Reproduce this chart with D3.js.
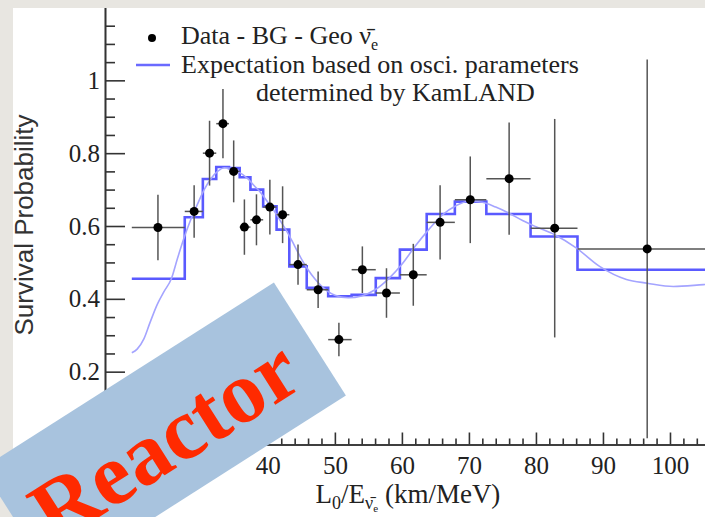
<!DOCTYPE html>
<html>
<head>
<meta charset="utf-8">
<script src="https://cdn.jsdelivr.net/npm/d3@7"></script>
<style>
  body { margin: 0; background: #e8e6e1; }
  svg { display: block; }
</style>
</head>
<body>
<div id="chart"></div>
<script>
// L0/E bins of the data points (km/MeV)
let binLow  = [19.7, 27.6, 30.3, 32.3, 34.2, 35.8, 37.4, 39.3, 41.3, 43.2, 45.8, 49.0, 52.5, 56.1, 59.7, 63.7, 67.9, 72.6, 79.2, 86.2];
let binHigh = [27.6, 30.3, 32.3, 34.2, 35.8, 37.4, 39.3, 41.3, 43.2, 45.8, 49.0, 52.5, 56.1, 59.7, 63.7, 67.9, 72.6, 79.2, 86.2, 112];
// Data - BG - Geo
let pointX   = [23.6, 29.0, 31.3, 33.3, 34.9, 36.5, 38.3, 40.3, 42.2, 44.5, 47.5, 50.6, 54.1, 57.7, 61.7, 65.7, 70.2, 76.0, 82.8, 96.6];
let pointY   = [0.596, 0.640, 0.800, 0.881, 0.750, 0.597, 0.617, 0.652, 0.631, 0.494, 0.425, 0.288, 0.480, 0.416, 0.466, 0.610, 0.672, 0.730, 0.594, 0.537];
let pointErr = [0.090, 0.072, 0.089, 0.095, 0.085, 0.076, 0.070, 0.075, 0.078, 0.055, 0.050, 0.046, 0.064, 0.068, 0.085, 0.102, 0.119, 0.154, 0.300, 0.520];
// expectation, one value per bin
let expLevel = [0.455, 0.624, 0.729, 0.762, 0.759, 0.734, 0.700, 0.654, 0.590, 0.489, 0.430, 0.407, 0.411, 0.457, 0.535, 0.633, 0.667, 0.633, 0.571, 0.480];
// unbinned oscillation curve
let curveX = [19.7, 20.5, 21.5, 22.4, 23.5, 24.5, 25.6, 26.5, 27.4, 28.4, 29.5, 30.5, 31.5, 32.5, 33.5, 34.5, 35.5, 37, 38, 39, 40, 41, 42, 43, 44, 45, 46, 47, 48, 49, 50, 52, 54, 56, 58, 60, 62, 64, 66, 68, 70, 72, 74, 76, 78, 80, 82.8, 86, 89.5, 93.5, 96.6, 100.5, 105, 110];
let curveY = [0.252, 0.262, 0.290, 0.334, 0.385, 0.420, 0.455, 0.510, 0.562, 0.613, 0.660, 0.700, 0.730, 0.750, 0.760, 0.758, 0.750, 0.730, 0.710, 0.690, 0.665, 0.640, 0.610, 0.580, 0.545, 0.510, 0.480, 0.455, 0.435, 0.420, 0.410, 0.403, 0.408, 0.425, 0.455, 0.495, 0.545, 0.590, 0.630, 0.655, 0.668, 0.665, 0.652, 0.635, 0.615, 0.598, 0.576, 0.540, 0.489, 0.453, 0.443, 0.434, 0.439, 0.445];

let xTicks = [20, 30, 40, 50, 60, 70, 80, 90, 100, 110];
let yTicks = [0.2, 0.4, 0.6, 0.8, 1];

let width = 705, height = 517;
let serif = "'Liberation Serif', 'Times New Roman', serif";

let svg = d3.select("#chart").append("svg")
    .attr("width", width)
    .attr("height", height);

// grey surround and white page
svg.append("rect").attr("width", width).attr("height", height).attr("fill", "#e8e6e1");
svg.append("rect").attr("x", 13).attr("y", 8).attr("width", width - 13).attr("height", height - 8).attr("fill", "#fff");

var x = d3.scaleLinear().domain([15.7, 110]).range([105, 737]);
var y = d3.scaleLinear().domain([0, 1.2]).range([444.5, 7.5]);

// axes
svg.append("g")
    .attr("transform", "translate(" + x(15.7) + ",0)")
    .call(d3.axisLeft(y).tickValues(yTicks).tickFormat(d => String(d)).tickSizeInner(-20).tickSizeOuter(0).tickPadding(5));
svg.append("g")
    .attr("transform", "translate(" + x(15.7) + ",0)")
    .call(d3.axisLeft(y).tickValues(d3.range(0, 24).map(i => i * 0.05).filter(v => Math.round(v * 100) % 20 != 0)).tickFormat("").tickSizeInner(-10).tickSizeOuter(0));

svg.append("g")
    .attr("transform", "translate(0," + y(0) + ")")
    .call(d3.axisBottom(x).tickValues(xTicks).tickSizeInner(-12).tickSizeOuter(0).tickPadding(12));
svg.append("g")
    .attr("transform", "translate(0," + y(0) + ")")
    .call(d3.axisBottom(x).tickValues(d3.range(16, 112, 2).filter(v => v % 10 != 0)).tickFormat("").tickSizeInner(-6).tickSizeOuter(0));

svg.selectAll(".domain, .tick line").attr("stroke", "#333").attr("stroke-width", 1.6);
svg.selectAll(".tick text").attr("font-family", serif).attr("font-size", 25).attr("fill", "#222");

// expectation histogram
let histPts = binLow.map((b, i) => [b, expLevel[i]]);
histPts.push([binHigh[binHigh.length - 1], expLevel[expLevel.length - 1]]);
svg.append("path")
    .attr("d", d3.line().x(d => x(d[0])).y(d => y(d[1])).curve(d3.curveStepAfter)(histPts))
    .attr("fill", "none")
    .attr("stroke", "#5a5aff")
    .attr("stroke-width", 2.6);

// oscillation curve
svg.append("path")
    .attr("d", d3.line().x((d, i) => x(d)).y((d, i) => y(curveY[i])).curve(d3.curveMonotoneX)(curveX))
    .attr("fill", "none")
    .attr("stroke", "#a4a4ff")
    .attr("stroke-width", 1.6);

// data points with error bars
let pts = svg.append("g").selectAll("g")
    .data(pointX)
    .enter()
    .append("g");
pts.append("line")
    .attr("x1", (d, i) => x(binLow[i])).attr("x2", (d, i) => x(binHigh[i]))
    .attr("y1", (d, i) => y(pointY[i])).attr("y2", (d, i) => y(pointY[i]))
    .attr("stroke", "#555").attr("stroke-width", 1.5);
pts.append("line")
    .attr("x1", d => x(d)).attr("x2", d => x(d))
    .attr("y1", (d, i) => y(pointY[i] + pointErr[i])).attr("y2", (d, i) => y(Math.max(0, pointY[i] - pointErr[i])))
    .attr("stroke", "#555").attr("stroke-width", 1.5);
pts.append("circle")
    .attr("cx", d => x(d))
    .attr("cy", (d, i) => y(pointY[i]))
    .attr("r", 4.5)
    .attr("fill", "#000");

// legend
let legend = svg.append("g").attr("font-family", serif).attr("font-size", 26).attr("fill", "#222");
legend.append("circle").attr("cx", 152).attr("cy", 38).attr("r", 4).attr("fill", "#000");
legend.append("line").attr("x1", 136).attr("x2", 170).attr("y1", 65).attr("y2", 65).attr("stroke", "#6a6aff").attr("stroke-width", 2.4);
let l1 = legend.append("text").attr("x", 181).attr("y", 44).text("Data - BG - Geo ν̄");
l1.append("tspan").attr("font-size", 16).attr("dy", 6).text("e");
legend.append("text").attr("x", 181).attr("y", 73).text("Expectation based on osci. parameters");
legend.append("text").attr("x", 256).attr("y", 101).text("determined by KamLAND");

// axis titles
let xt = svg.append("text")
    .attr("x", 408).attr("y", 503)
    .attr("text-anchor", "middle")
    .attr("font-family", serif).attr("font-size", 27).attr("fill", "#222");
xt.append("tspan").text("L");
xt.append("tspan").attr("font-size", 18).attr("dy", 6).text("0");
xt.append("tspan").attr("dy", -6).text("/E");
xt.append("tspan").attr("font-size", 18).attr("dy", 6).text("ν̄");
xt.append("tspan").attr("font-size", 11).attr("dy", 3).text("e");
xt.append("tspan").attr("dy", -9).text(" (km/MeV)");

svg.append("text")
    .attr("transform", "translate(33,225) rotate(-90)")
    .attr("text-anchor", "middle")
    .attr("font-family", "'Liberation Sans', Arial, sans-serif")
    .attr("font-size", 26).attr("fill", "#333")
    .text("Survival Probability");

// re-cover the left and top margins
svg.append("rect").attr("width", 13).attr("height", height).attr("fill", "#e8e6e1");
svg.append("rect").attr("width", width).attr("height", 8).attr("fill", "#e8e6e1");

// banner
let banner = svg.append("g").attr("transform", "translate(164,432) rotate(-32.5)");
banner.append("rect").attr("x", -173).attr("y", -67).attr("width", 346).attr("height", 134).attr("fill", "#a8c3de");
banner.append("text")
    .attr("x", -4).attr("y", 6).attr("dy", "0.35em")
    .attr("text-anchor", "middle")
    .attr("font-family", serif).attr("font-weight", "bold")
    .attr("font-size", 88).attr("fill", "#ff2a00")
    .text("Reactor");
</script>
</body>
</html>
